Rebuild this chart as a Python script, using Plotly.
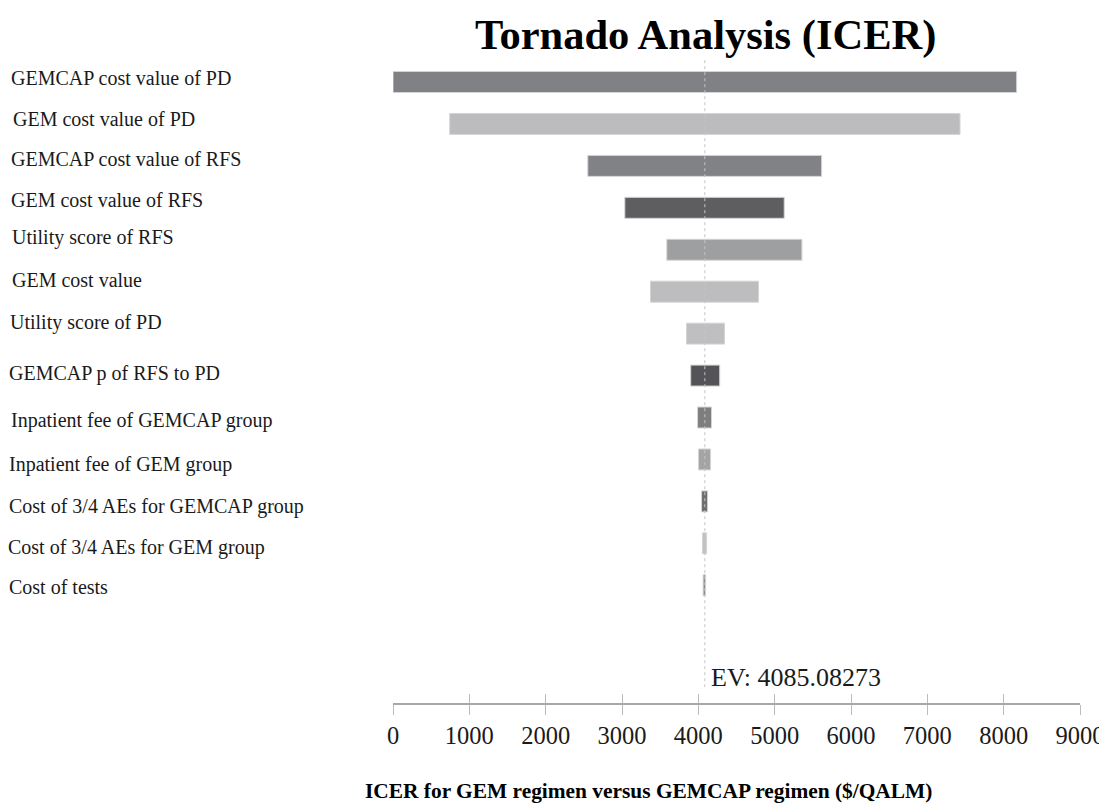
import plotly.graph_objects as go

# ---- data ----
params = [
    "GEMCAP cost value of PD",
    "GEM cost value of PD",
    "GEMCAP cost value of RFS",
    "GEM cost value of RFS",
    "Utility score of RFS",
    "GEM cost value",
    "Utility score of PD",
    "GEMCAP p of RFS to PD",
    "Inpatient fee of GEMCAP group",
    "Inpatient fee of GEM group",
    "Cost of 3/4 AEs for GEMCAP group",
    "Cost of 3/4 AEs for GEM group",
    "Cost of tests",
]
icer_low = [0, 743, 2552, 3037, 3587, 3373, 3845, 3900, 3990, 4003, 4042, 4055, 4063]
icer_high = [8170, 7428, 5615, 5125, 5357, 4789, 4343, 4280, 4173, 4160, 4121, 4108, 4095]
ev_value = 4085.08273
x_ticks = [0, 1000, 2000, 3000, 4000, 5000, 6000, 7000, 8000, 9000]

# ---- style ----
bar_colors = ["#808185", "#bcbcbe", "#818286", "#5e5e61", "#9e9fa1", "#bdbdbf", "#bfbfc1",
              "#545458", "#7e7e81", "#a4a4a6", "#6e6e71", "#c2c2c2", "#8a8a8c"]
label_yshift = [4, 5, 7, 8, 12, 12, 11, 2, -3, -5, -5, -4, -2]
label_xoff = [0, 2, 0, 0, 1, 1, -1, -2, 0, -2, -2, -3, -2]
FONT = "Liberation Serif, Times New Roman, serif"

rows = list(range(len(params)))
fig = go.Figure()
fig.add_trace(go.Bar(
    y=rows,
    x=[h - l for l, h in zip(icer_low, icer_high)],
    base=icer_low,
    orientation="h",
    width=0.5,
    marker=dict(color=bar_colors, line=dict(color="#d4d4d6", width=1)),
    showlegend=False,
    hoverinfo="skip",
))
# dummy trace for the overlay axis (inside ticks)
fig.add_trace(go.Scatter(x=[0, 9000], y=[0, 0], xaxis="x2", mode="markers",
                         marker=dict(opacity=0), showlegend=False, hoverinfo="skip"))

# EV line
fig.add_shape(type="line", x0=ev_value, x1=ev_value, y0=-0.52, y1=14.5,
              xref="x", yref="y", line=dict(color="#c4c4c4", width=1, dash="dot"),
              layer="above")

PW = 687  # plot width in px
PH = 643  # plot height in px
annotations = []
for i, (p, s, dx) in enumerate(zip(params, label_yshift, label_xoff)):
    annotations.append(dict(text=p, x=(9 + dx - 393) / PW, xref="paper", y=i, yref="y",
                            xanchor="left", yanchor="middle", yshift=s, showarrow=False,
                            font=dict(family=FONT, size=20, color="#1a1a1a")))
annotations.append(dict(text=f"EV: {ev_value}", x=ev_value, xref="x", y=14.19, yref="y",
                        xanchor="left", yanchor="middle", xshift=4.5, showarrow=False,
                        font=dict(family=FONT, size=26, color="#1a1a1a")))
annotations.append(dict(text="<b>Tornado Analysis (ICER)</b>", x=(705 - 393) / PW, xref="paper",
                        y=(703 - 35) / PH, yref="paper", xanchor="center", yanchor="middle",
                        showarrow=False, font=dict(family=FONT, size=42.5, color="#000000")))
annotations.append(dict(text="<b>ICER for GEM regimen versus GEMCAP regimen ($/QALM)</b>",
                        x=(648 - 393) / PW, xref="paper", y=(703 - 791) / PH, yref="paper",
                        xanchor="center", yanchor="middle", showarrow=False,
                        font=dict(family=FONT, size=21.4, color="#000000")))

# page body has an 8px margin: figure is shifted by 8px
fig.update_layout(
    width=1099, height=796,
    margin=dict(l=385, r=27, t=52, b=101),
    paper_bgcolor="white", plot_bgcolor="white",
    xaxis=dict(range=[0, 9000], tickvals=x_ticks, ticks="outside", ticklen=10,
               tickcolor="#bdbdbd", showline=True, linecolor="#a8a8a8", linewidth=1.5,
               showgrid=False, zeroline=False, ticklabelstandoff=0, automargin=False,
               ticklabeloverflow="allow",
               tickfont=dict(family=FONT, size=24.5, color="#1a1a1a")),
    xaxis2=dict(range=[0, 9000], overlaying="x", side="bottom", anchor="y",
                tickvals=x_ticks, ticks="inside", ticklen=9, tickcolor="#bdbdbd",
                showticklabels=False, showline=False, showgrid=False, zeroline=False,
                automargin=False),
    yaxis=dict(range=[14.807, -0.5246], visible=False, showgrid=False, zeroline=False,
               automargin=False),
    annotations=annotations,
    bargap=0.5,
)

fig.write_html("out.html")
